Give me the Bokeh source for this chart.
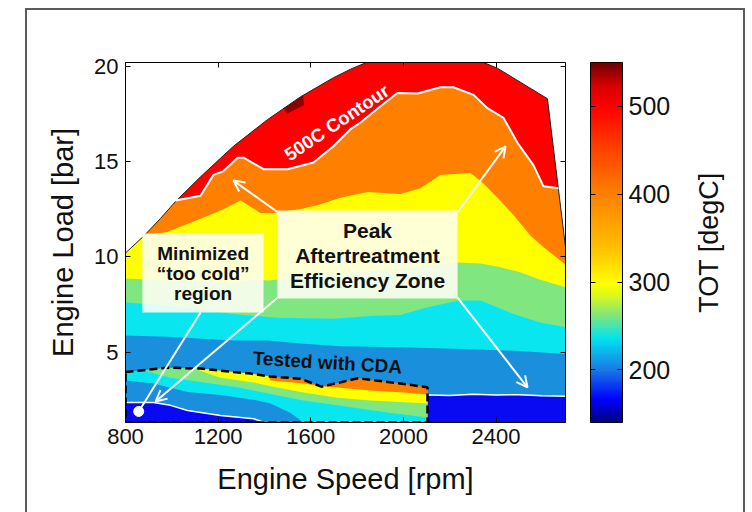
import math
import numpy as np
from bokeh.plotting import figure
from bokeh.layouts import row
from bokeh.models import (LinearAxis, FixedTicker, Range1d, Label, BoxAnnotation,
                          Arrow, OpenHead, LinearColorMapper)
from bokeh.embed import file_html
from bokeh.resources import INLINE

# ---------------- data ----------------
x_ticks = [800, 1200, 1600, 2000, 2400]
y_ticks = [5, 10, 15, 20]
cb_ticks = [200, 300, 400, 500]

# maximum-load envelope (rpm, bar)
env_x = [800, 880, 950, 1016, 1124, 1266, 1413, 1556, 1698, 1772, 1850, 2000, 2200, 2346, 2406, 2622, 2700]
env_y = [10.2, 11.1, 12.0, 12.9, 14.2, 15.8, 17.2, 18.4, 19.4, 19.85, 20.25, 20.5, 20.5, 20.2, 19.9, 18.3, 10.5]

# 500 C contour (red / orange boundary)
c500_x = [1016, 1124, 1180, 1223, 1284, 1310, 1396, 1500, 1612, 1698, 1772, 1815, 1901, 1974,
          2061, 2160, 2216, 2303, 2363, 2432, 2492, 2562, 2605, 2670]
c500_y = [12.95, 13.2, 14.3, 14.5, 15.2, 15.2, 14.6, 14.6, 14.95, 15.8, 16.7, 17.05, 17.9, 18.6,
          18.57, 18.9, 18.9, 18.5, 17.8, 17.3, 16.0, 14.8, 13.7, 13.6]

# orange / yellow boundary
org_x = [873, 980, 1124, 1223, 1297, 1383, 1439, 1550, 1629, 1728, 1845, 1987, 2074, 2160, 2290,
         2346, 2406, 2475, 2549, 2605, 2700]
org_y = [11.1, 11.3, 12.0, 12.5, 12.95, 12.3, 12.3, 12.5, 12.7, 13.1, 13.4, 13.3, 13.6, 14.3, 14.4,
         13.85, 13.1, 12.2, 11.1, 10.5, 9.6]

# yellow / green boundary
yel_x = [800, 981, 1167, 1266, 1340, 1420, 1600, 1800, 2000, 2238, 2333, 2419, 2500, 2592, 2700]
yel_y = [8.86, 8.75, 8.65, 8.6, 8.8, 8.75, 9.0, 9.2, 9.4, 9.7, 9.65, 9.45, 9.2, 8.8, 8.4]

# green / cyan boundary
grn_x = [800, 981, 1266, 1456, 1698, 1871, 1987, 2087, 2238, 2333, 2475, 2592, 2700]
grn_y = [7.6, 7.45, 7.0, 6.8, 6.75, 6.9, 6.95, 7.3, 7.7, 7.7, 7.0, 6.55, 6.3]

# cyan / blue boundary
cyn_x = [800, 981, 1266, 1413, 1556, 1728, 1987, 2303, 2500, 2700]
cyn_y = [5.87, 5.8, 5.6, 5.6, 5.45, 5.3, 5.25, 5.15, 5.05, 4.9]

# blue / dark-blue boundary (white line) right of CDA region
wl_x = [2104, 2200, 2300, 2400, 2500, 2600, 2700]
wl_y = [2.75, 2.72, 2.78, 2.74, 2.76, 2.7, 2.68]

# CDA tested region, upper edge
cda_x = [800, 981, 1124, 1266, 1340, 1426, 1556, 1646, 1802, 1987, 2104]
cda_y = [3.95, 4.18, 4.13, 3.95, 3.87, 3.71, 3.6, 3.18, 3.62, 3.35, 3.15]

# boundaries inside the CDA region
cda_blue_x = [800, 921, 994, 1068, 1210, 1353, 1400]          # blue / dark blue (white line)
cda_blue_y = [2.35, 2.35, 2.2, 1.93, 1.67, 1.5, 1.3]
cda_cyan_x = [800, 921, 1068, 1210, 1353, 1426, 1513, 1569]    # cyan / blue
cda_cyan_y = [3.5, 3.35, 2.9, 2.75, 2.5, 2.3, 1.8, 1.3]
cda_grn_x = [860, 994, 1137, 1284, 1426, 1569, 1715, 1931, 2104]  # green / cyan
cda_grn_y = [4.1, 3.65, 3.4, 3.15, 2.8, 2.45, 2.2, 1.83, 1.56]
cda_yel_x = [1080, 1210, 1353, 1426, 1569, 1715, 1858, 2104]     # yellow / green
cda_yel_y = [4.2, 3.65, 3.4, 3.2, 2.87, 2.6, 2.45, 2.3]
cda_org_x = [1413, 1426, 1569, 1642, 1715, 1858, 2000, 2104]     # orange / yellow
cda_org_y = [3.85, 3.5, 3.35, 3.2, 3.14, 2.98, 2.87, 2.77]

# small >540 C spot
hot_x = [1455, 1495, 1570, 1565]
hot_y = [18.6, 17.5, 17.95, 19.2]

# ---------------- styling ----------------
XMIN, XMAX, YMIN, YMAX = 800, 2700, 1.3, 20.2
TOP = 25
CB_LOW, CB_HIGH = 140, 550

C_DBLUE = "#0a0af2"
C_MBLUE = "#1a8fdc"
C_CYAN = "#0ae6f0"
C_GREEN = "#80e680"
C_YELLOW = "#ffff00"
C_ORANGE = "#ff8000"
C_RED = "#ff0000"
C_DRED = "#8c0000"

FONT = "Liberation Sans"

p = figure(output_backend="svg", toolbar_location=None, frame_width=440, frame_height=360,
           x_range=Range1d(XMIN, XMAX), y_range=Range1d(YMIN, YMAX),
           min_border_left=98, min_border_right=10, min_border_top=52, min_border_bottom=90,
           background_fill_color="white", border_fill_color="white")
p.grid.visible = False
p.outline_line_color = "black"
p.outline_line_width = 1

# base: dark blue everywhere
p.patch([XMIN, XMAX, XMAX, XMIN], [YMIN, YMIN, TOP, TOP], fill_color=C_DBLUE, line_color=None)

CX = cda_x[-1]
# CDA-region bands
p.patch(cda_blue_x + [CX, CX, XMIN], cda_blue_y + [YMIN, TOP, TOP], fill_color=C_MBLUE, line_color=None)
p.patch(cda_cyan_x + [CX, CX, XMIN], cda_cyan_y + [YMIN, TOP, TOP], fill_color=C_CYAN, line_color=None)
p.patch(cda_grn_x + [CX, cda_grn_x[0]], cda_grn_y + [TOP, TOP], fill_color=C_GREEN, line_color=None)
p.patch(cda_yel_x + [CX, cda_yel_x[0]], cda_yel_y + [TOP, TOP], fill_color=C_YELLOW, line_color=None)
p.patch(cda_org_x + [CX, cda_org_x[0]], cda_org_y + [TOP, TOP], fill_color=C_ORANGE, line_color=None)

# main map bands
p.patch(cda_x + wl_x + [XMAX, XMIN], cda_y + wl_y + [TOP, TOP], fill_color=C_MBLUE, line_color=None)
p.patch(cyn_x + [XMAX, XMIN], cyn_y + [TOP, TOP], fill_color=C_CYAN, line_color=None)
p.patch(grn_x + [XMAX, XMIN], grn_y + [TOP, TOP], fill_color=C_GREEN, line_color=None)
p.patch(yel_x + [XMAX, XMIN], yel_y + [TOP, TOP], fill_color=C_YELLOW, line_color=None)
p.patch(org_x + [XMAX, org_x[0]], org_y + [TOP, TOP], fill_color=C_ORANGE, line_color=None)
p.patch(c500_x + [c500_x[-1], c500_x[0]], c500_y + [TOP, TOP], fill_color=C_RED, line_color=None)
p.patch(hot_x, hot_y, fill_color=C_DRED, line_color=None)

# white mask above the envelope
p.patch(env_x + [XMAX, XMIN], env_y + [TOP, TOP], fill_color="white", line_color=None)
p.line(env_x, env_y, line_color="#222222", line_width=1)

# white contour lines
p.line(c500_x, c500_y, line_color="white", line_width=2)
p.line(wl_x, wl_y, line_color="white", line_width=1.5)
p.line(cda_blue_x, cda_blue_y, line_color="white", line_width=1.5)

# CDA dashed outline
p.line(cda_x + [CX, XMIN, XMIN], cda_y + [YMIN, YMIN, cda_y[0]],
       line_color="black", line_width=2.5, line_dash="8 4")

# axes
for ax in (p.xaxis[0], p.yaxis[0]):
    ax.major_tick_in = 5
    ax.major_tick_out = 0
    ax.minor_tick_line_color = None
    ax.axis_line_color = "black"
    ax.major_label_text_font = FONT
    ax.major_label_text_color = "#111111"
    ax.axis_label_text_font = FONT
    ax.axis_label_text_font_style = "normal"
    ax.axis_label_text_color = "#111111"
p.xaxis.ticker = FixedTicker(ticks=x_ticks)
p.yaxis.ticker = FixedTicker(ticks=y_ticks)
p.xaxis.axis_label = "Engine Speed [rpm]"
p.yaxis.axis_label = "Engine Load [bar]"
p.xaxis.axis_label_text_font_size = "29px"
p.yaxis.axis_label_text_font_size = "29px"
p.xaxis.major_label_text_font_size = "22px"
p.yaxis.major_label_text_font_size = "22px"
p.xaxis.major_label_standoff = 6
p.yaxis.major_label_standoff = 7
p.xaxis.axis_label_standoff = 16
p.yaxis.axis_label_standoff = 12


def tick_only_axis(ticks):
    return LinearAxis(ticker=FixedTicker(ticks=ticks), major_label_text_font_size="1px",
                      major_label_text_color=None, major_label_standoff=0,
                      major_tick_in=5, major_tick_out=0, minor_tick_line_color=None)


p.add_layout(tick_only_axis(x_ticks), "above")
p.add_layout(tick_only_axis(y_ticks), "right")

# annotation boxes
BOX = "#fffff2"
p.add_layout(BoxAnnotation(left=873, right=1396, bottom=7.08, top=11.22, fill_color=BOX,
                           fill_alpha=0.88, line_color=None))
p.add_layout(BoxAnnotation(left=1456, right=2234, bottom=7.81, top=12.43, fill_color=BOX,
                           fill_alpha=0.88, line_color=None))


def lab(x, y, t, size, color="#111111", angle=0.0):
    p.add_layout(Label(x=x, y=y, text=t, text_font=FONT, text_font_style="bold",
                       text_font_size=size, text_color=color, text_align="center",
                       text_baseline="middle", angle=angle))


lab(1135, 10.17, "Minimized", "19px")
lab(1135, 9.12, "\u201ctoo cold\u201d", "19px")
lab(1135, 8.07, "region", "19px")
lab(1845, 11.38, "Peak", "21px")
lab(1845, 10.07, "Aftertreatment", "21px")
lab(1845, 8.75, "Efficiency Zone", "21px")
lab(1712, 17.05, "500C Contour", "18.5px", color="white", angle=0.59)
lab(1672, 4.45, "Tested with CDA", "19px", angle=-0.06)


# arrows
def arr(x0, y0, x1, y1, head=True):
    p.add_layout(Arrow(end=OpenHead(line_color="white", line_width=2, size=11) if head else None,
                       x_start=x0, y_start=y0, x_end=x1, y_end=y1,
                       line_color="white", line_width=2))


arr(1456, 12.35, 1266, 14.0)
arr(2234, 12.35, 2441, 15.8)
arr(1456, 7.85, 930, 2.4)
arr(2234, 7.85, 2536, 3.14)
arr(1124, 7.08, 857, 1.88, head=False)
p.scatter([857], [1.88], size=10, fill_color="white", line_color="white")

# ---------------- colour bar ----------------
stops = [(140, (0, 0, 130)), (165, (0, 0, 255)), (200, (25, 125, 228)), (235, (0, 228, 240)),
         (262, (130, 230, 120)), (286, (225, 250, 20)), (298, (255, 255, 0)), (340, (255, 190, 0)),
         (400, (255, 128, 0)), (460, (255, 55, 0)), (500, (255, 0, 0)), (525, (215, 0, 0)),
         (550, (115, 0, 0))]
sv = np.array([s[0] for s in stops], dtype=float)
sc = np.array([s[1] for s in stops], dtype=float)
vals = np.linspace(CB_LOW, CB_HIGH, 256)
pal = []
for v in vals:
    r = np.interp(v, sv, sc[:, 0]); g = np.interp(v, sv, sc[:, 1]); b = np.interp(v, sv, sc[:, 2])
    pal.append("#%02x%02x%02x" % (int(round(r)), int(round(g)), int(round(b))))

p2 = figure(output_backend="svg", toolbar_location=None, frame_width=32, frame_height=360,
            x_range=Range1d(0, 1), y_range=Range1d(CB_LOW, CB_HIGH),
            x_axis_location=None, y_axis_location="right",
            min_border_left=15, min_border_right=60, min_border_top=52, min_border_bottom=90,
            background_fill_color="white", border_fill_color="white")
p2.grid.visible = False
p2.outline_line_color = "black"
grad = np.linspace(CB_LOW, CB_HIGH, 400).reshape(-1, 1)
p2.image(image=[grad], x=0, y=CB_LOW, dw=1, dh=CB_HIGH - CB_LOW,
         color_mapper=LinearColorMapper(palette=pal, low=CB_LOW, high=CB_HIGH))
ya = p2.yaxis[0]
ya.ticker = FixedTicker(ticks=cb_ticks)
ya.major_tick_in = 5
ya.major_tick_out = 0
ya.minor_tick_line_color = None
ya.major_label_text_font = FONT
ya.major_label_text_font_size = "25px"
ya.major_label_text_color = "#111111"
ya.major_label_standoff = 6
p2.add_layout(tick_only_axis(cb_ticks), "left")

# colour-bar title in its own slim panel, reading bottom-to-top
p3 = figure(output_backend="svg", toolbar_location=None, frame_width=61, frame_height=360,
            x_range=Range1d(0, 1), y_range=Range1d(0, 1),
            x_axis_location=None, y_axis_location=None,
            min_border_left=0, min_border_right=0, min_border_top=52, min_border_bottom=90,
            background_fill_color="white", border_fill_color="white")
p3.grid.visible = False
p3.outline_line_color = None
p3.add_layout(Label(x=0.44, y=0.5, text="TOT [degC]", text_font=FONT,
                    text_font_size="27px", text_color="#111111", text_align="center",
                    text_baseline="middle", angle=math.pi / 2))

lay = row(p, p2, p3, styles={"border": "2px solid #5b5b5b", "border-bottom": "none",
                             "margin-left": "25px", "margin-top": "8px"})

open("out.html", "w").write(file_html(lay, INLINE))
